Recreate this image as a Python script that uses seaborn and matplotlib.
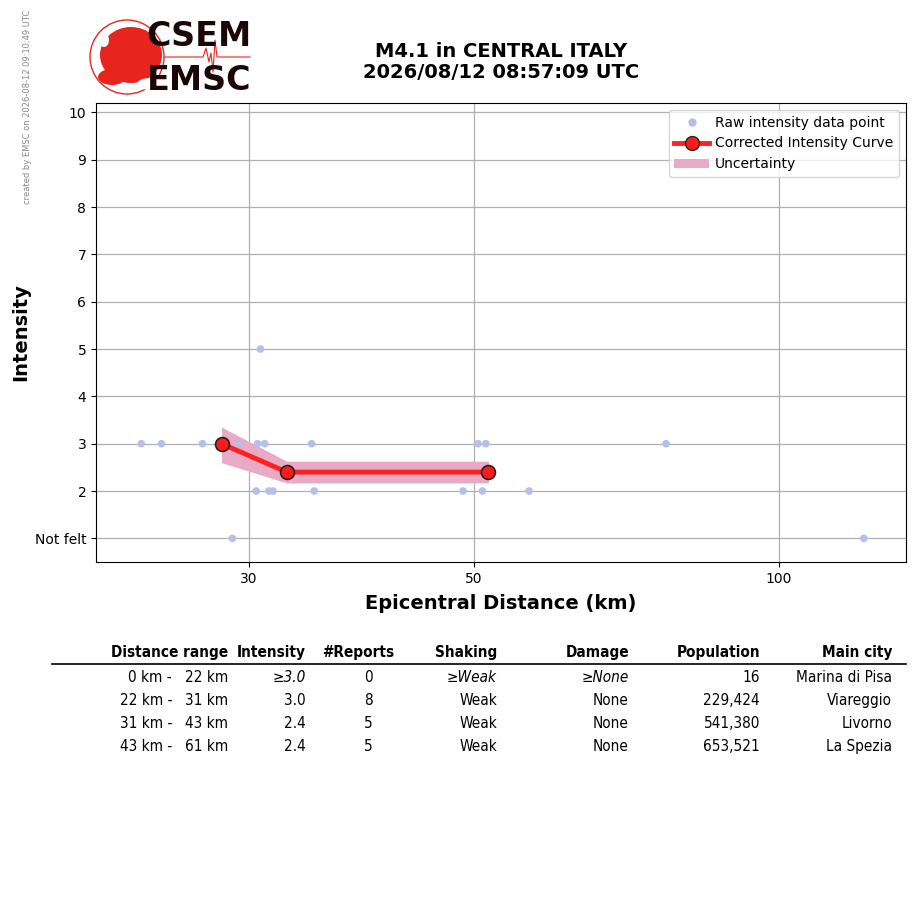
import matplotlib
matplotlib.use("Agg")
import matplotlib.pyplot as plt
import matplotlib.ticker as mticker
from matplotlib.patches import Circle, Ellipse, Patch
from matplotlib.lines import Line2D
import numpy as np
import pandas as pd
import seaborn as sns

# raw intensity reports (distance km, intensity)
raw_dist = [23.5, 24.6, 27.0, 29.3, 30.6, 31.1, 34.6, 50.5, 51.4, 77.4,
            30.8,
            30.5, 31.4, 31.7, 34.8, 48.8, 51.0, 56.7,
            28.9, 121.3]
raw_int = [3, 3, 3, 3, 3, 3, 3, 3, 3, 3,
           5,
           2, 2, 2, 2, 2, 2, 2,
           1, 1]

# corrected curve + uncertainty band
curve_dist = [28.2, 32.7, 51.7]
curve_int = [3.0, 2.4, 2.4]
band_low = [2.6, 2.17, 2.17]
band_high = [3.35, 2.63, 2.63]

# summary table
col_names = ["Distance range", "Intensity", "#Reports", "Shaking", "Damage", "Population", "Main city"]
range_from = [0, 22, 31, 43]
range_to = [22, 31, 43, 61]
tab_intensity = ["\u22653.0", "3.0", "2.4", "2.4"]
tab_reports = ["0", "8", "5", "5"]
tab_shaking = ["\u2265Weak", "Weak", "Weak", "Weak"]
tab_damage = ["\u2265None", "None", "None", "None"]
tab_population = ["16", "229,424", "541,380", "653,521"]
tab_city = ["Marina di Pisa", "Viareggio", "Livorno", "La Spezia"]

raw_df = pd.DataFrame({"dist": raw_dist, "intensity": raw_int})
curve_df = pd.DataFrame({"dist": curve_dist, "intensity": curve_int})

W, H = 915, 905
fig = plt.figure(figsize=(W / 100, H / 100), dpi=100)

def fx(px):
    return px / W

def fy(py):
    return 1 - py / H

ax = fig.add_axes([fx(96), fy(562), fx(906 - 96), (562 - 103) / H])

ax.fill_between(curve_dist, band_low, band_high, color="#e8aac4", lw=0, zorder=2)
sns.scatterplot(data=raw_df, x="dist", y="intensity", ax=ax, color="#b4bfea",
                s=30, edgecolor="none", zorder=3, legend=False)
sns.lineplot(data=curve_df, x="dist", y="intensity", ax=ax, color="#ff2020",
             lw=3.5, marker="o", markersize=10, markerfacecolor="#ff1a1a",
             markeredgecolor="#222222", markeredgewidth=1.2, zorder=4)

ax.set_xscale("log")
ax.set_xlim(21.2, 133.5)
ax.set_ylim(0.5, 10.2)
ax.set_xticks([30, 50, 100])
ax.xaxis.set_major_formatter(mticker.FormatStrFormatter("%d"))
ax.xaxis.set_minor_locator(mticker.NullLocator())
ax.set_yticks(range(1, 11))
ax.set_yticklabels(["Not felt"] + [str(i) for i in range(2, 11)])
ax.tick_params(labelsize=10)
ax.grid(True, color="#b0b0b0", lw=0.9, zorder=0)
ax.set_axisbelow(True)
ax.set_xlabel("Epicentral Distance (km)", fontsize=14, fontweight="bold", labelpad=6)
ax.set_ylabel("Intensity", fontsize=14, fontweight="bold", labelpad=3)

handles = [
    Line2D([], [], ls="none", marker="o", color="#b4bfea", markersize=5),
    Line2D([], [], color="#ff2020", lw=3.5, marker="o", markersize=10,
           markerfacecolor="#ff1a1a", markeredgecolor="#222222"),
    Patch(color="#e8aac4", lw=0),
]
ax.legend(handles, ["Raw intensity data point", "Corrected Intensity Curve", "Uncertainty"],
          loc="upper right", fontsize=10, framealpha=0.8,
          handlelength=2.5, handletextpad=0.45, borderpad=0.4)

fig.text(fx(501), fy(62), "M4.1 in CENTRAL ITALY\n2026/08/12 08:57:09 UTC",
         ha="center", va="center", fontsize=14, fontweight="bold", linespacing=1.15)
fig.text(fx(28), fy(10), "created by EMSC on 2026-08-12 09:10:49 UTC", rotation=90,
         ha="center", va="top", fontsize=6, color="#888888")

# logo
lax = fig.add_axes([fx(85), fy(100), fx(175), 85 / H])
lax.set_xlim(85, 260)
lax.set_ylim(100, 15)
lax.axis("off")
lax.add_patch(Circle((127, 57), 37, fill=False, ec="#e8241f", lw=1.0))
lax.add_patch(Ellipse((131, 55), 62, 56, color="#e8241f", lw=0))
lax.add_patch(Ellipse((112, 77), 28, 16, color="#e8241f", lw=0))
lax.add_patch(Ellipse((150, 84), 26, 12, color="#ffffff", lw=0))
lax.add_patch(Ellipse((104, 40), 10, 14, color="#ffffff", lw=0))
seis_x = [165, 203, 206, 209, 211, 213, 215, 217, 250]
seis_y = [57, 57, 48, 62, 53, 72, 40, 57, 57]
lax.plot(seis_x, seis_y, color="#e8241f", lw=0.8)
lax.text(199, 37, "CSEM", ha="center", va="center", fontsize=24, fontweight="bold", color="#1a0606")
lax.text(199, 81, "EMSC", ha="center", va="center", fontsize=24, fontweight="bold", color="#1a0606")

# table
tab_font = dict(fontsize=11, family="DejaVu Sans", stretch="condensed")
col_right = [228, 306, 373, 497, 629, 760, 892]
row_y = [677, 700, 723, 746]
for name, xr in zip(col_names, col_right):
    if name == "#Reports":
        fig.text(fx(394), fy(652), name, ha="right", va="center", fontweight="bold", **tab_font)
    else:
        fig.text(fx(xr), fy(652), name, ha="right", va="center", fontweight="bold", **tab_font)
fig.add_artist(Line2D([fx(52), fx(906)], [fy(664), fy(664)], color="black", lw=1.2))
for i, y in enumerate(row_y):
    style = "italic" if i == 0 else "normal"
    fig.text(fx(172), fy(y), f"{range_from[i]} km -", ha="right", va="center", **tab_font)
    fig.text(fx(228), fy(y), f"{range_to[i]} km", ha="right", va="center", **tab_font)
    fig.text(fx(306), fy(y), tab_intensity[i], ha="right", va="center", style=style, **tab_font)
    fig.text(fx(373), fy(y), tab_reports[i], ha="right", va="center", **tab_font)
    fig.text(fx(497), fy(y), tab_shaking[i], ha="right", va="center", style=style, **tab_font)
    fig.text(fx(629), fy(y), tab_damage[i], ha="right", va="center", style=style, **tab_font)
    fig.text(fx(760), fy(y), tab_population[i], ha="right", va="center", **tab_font)
    fig.text(fx(892), fy(y), tab_city[i], ha="right", va="center", **tab_font)

fig.savefig("out.png", dpi=100)
